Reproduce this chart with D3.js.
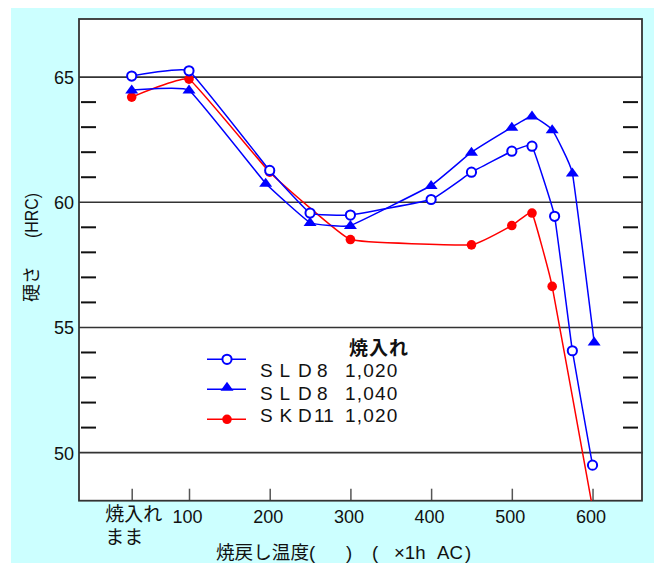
<!DOCTYPE html>
<html>
<head>
<meta charset="utf-8">
<script src="https://cdn.jsdelivr.net/npm/d3@7"></script>
<style>
body { margin: 0; background: #fff; }
svg { display: block; }
text { font-family: "Liberation Sans", "Noto Sans CJK JP", sans-serif; fill: #111; }
</style>
</head>
<body>
<div id="chart"></div>
<script>
// tick values / labels
const tempTicks = [29, 100, 200, 300, 400, 500, 600]
const tempTickLabels = ["焼入れ\nまま", "100", "200", "300", "400", "500", "600"]
const hrcTicks = [50, 55, 60, 65]
const hrcMinorTicks = [51, 52, 53, 54, 56, 57, 58, 59, 61, 62, 63, 64]

// SLD8 quenched at 1,020
const sld8_1020_temp = [29, 100, 200, 250, 300, 400, 450, 500, 525, 553, 575, 600]
const sld8_1020_hrc = [65.04, 65.25, 61.27, 59.57, 59.49, 60.11, 61.2, 62.04, 62.24, 59.44, 54.07, 49.5]
// SLD8 quenched at 1,040
const sld8_1040_temp = [29, 100, 195, 250, 300, 400, 450, 500, 525, 550, 575, 602]
const sld8_1040_hrc = [64.48, 64.48, 60.76, 59.19, 59.07, 60.67, 62.0, 63.0, 63.45, 62.9, 61.17, 54.42]
// SKD11 quenched at 1,020
const skd11_1020_temp = [29, 100, 200, 300, 450, 500, 525, 550, 600]
const skd11_1020_hrc = [64.2, 64.92, 61.2, 58.51, 58.3, 59.07, 59.57, 56.64, 47.8]

const legendNames = ["SLD8", "SLD8", "SKD11"]
const legendTemps = ["1,020", "1,040", "1,020"]

const W = 654, H = 563
const margin = { top: 19, right: 12, bottom: 62.3, left: 79 }
const width = W - margin.left - margin.right
const height = H - margin.top - margin.bottom

const blue = "#0000ff", red = "#ff0000"

const svg = d3.select("#chart").append("svg")
    .attr("width", W)
    .attr("height", H)

// cyan backdrop
svg.append("rect")
    .attr("x", 11).attr("y", 8)
    .attr("width", W - 11).attr("height", H - 8)
    .attr("fill", "#ccffff")

const g = svg.append("g")
    .attr("transform", `translate(${margin.left},${margin.top})`)

g.append("rect")
    .attr("width", width).attr("height", height)
    .attr("fill", "#fff")

const x = d3.scaleLinear().domain([-36.3, 661.3]).range([0, width])
const y = d3.scaleLinear().domain([48.08, 67.32]).range([height, 0])

// grid lines
g.append("g")
    .selectAll("line")
    .data(hrcTicks)
    .enter().append("line")
    .attr("x1", 0).attr("x2", width + 1)
    .attr("y1", d => y(d)).attr("y2", d => y(d))
    .attr("stroke", "#333")
    .attr("stroke-width", 1.6)

// minor ticks both sides
g.append("g")
    .selectAll("line")
    .data(hrcMinorTicks)
    .enter().append("line")
    .attr("x1", 2).attr("x2", 17)
    .attr("y1", d => y(d)).attr("y2", d => y(d))
    .attr("stroke", "#111")
    .attr("stroke-width", 2)
g.append("g")
    .selectAll("line")
    .data(hrcMinorTicks)
    .enter().append("line")
    .attr("x1", width - 19).attr("x2", width - 4)
    .attr("y1", d => y(d)).attr("y2", d => y(d))
    .attr("stroke", "#111")
    .attr("stroke-width", 2)

// x axis: ticks pointing inward
const xAxis = g.append("g")
    .attr("transform", `translate(0,${height})`)
    .call(d3.axisBottom(x)
        .tickValues(tempTicks)
        .tickSize(-12)
        .tickPadding(22)
        .tickFormat((d, i) => tempTickLabels[i]))
xAxis.select(".domain").remove()
xAxis.selectAll(".tick line").attr("stroke", "#555").attr("stroke-width", 1.5)
xAxis.selectAll(".tick text")
    .attr("fill", "#111")
    .style("font-size", "18px")
    .attr("dy", 0)
    .attr("y", 22)
    .each(function (d, i) {
        const lines = tempTickLabels[i].split("\n")
        const t = d3.select(this)
        if (lines.length > 1) {
            t.text(null)
                .attr("text-anchor", "start")
                .style("font-family", "'Noto Sans CJK JP', sans-serif")
                .style("font-size", "19px")
            lines.forEach((line, k) => {
                t.append("tspan").attr("x", -27).attr("y", 20 + k * 23).text(line)
            })
        } else {
            t.attr("x", -2)
        }
    })

// y axis labels
const yAxis = g.append("g")
    .call(d3.axisLeft(y).tickValues(hrcTicks).tickSize(0).tickPadding(5))
yAxis.select(".domain").remove()
yAxis.selectAll(".tick text")
    .attr("fill", "#111")
    .style("font-size", "18px")
    .attr("dy", "0.36em")

// frame
g.append("rect")
    .attr("width", width).attr("height", height)
    .attr("fill", "none")
    .attr("stroke", "#333")
    .attr("stroke-width", 1.8)

// data
const series = [
    { temp: skd11_1020_temp, hrc: skd11_1020_hrc, color: red, marker: "dot" },
    { temp: sld8_1040_temp, hrc: sld8_1040_hrc, color: blue, marker: "triangle" },
    { temp: sld8_1020_temp, hrc: sld8_1020_hrc, color: blue, marker: "circle" }
]

g.append("clipPath").attr("id", "plot-clip")
    .append("rect").attr("width", width).attr("height", height)

const line = d3.line()
    .x(d => x(d[0]))
    .y(d => y(d[1]))
    .curve(d3.curveCardinal.tension(0.72))

const triPath = "M0,-5.5L6.5,3.5L-6.5,3.5Z"

function drawMarker(sel, marker, color) {
    if (marker === "circle") {
        sel.append("circle").attr("r", 4.6)
            .attr("fill", "#fff").attr("stroke", color).attr("stroke-width", 2)
    } else if (marker === "triangle") {
        sel.append("path").attr("d", triPath).attr("fill", color)
    } else {
        sel.append("circle").attr("r", 4.8).attr("fill", color)
    }
}

const plot = g.append("g").attr("clip-path", "url(#plot-clip)")
series.forEach(s => {
    const pts = s.temp.map((t, i) => [t, s.hrc[i]])
    plot.append("path")
        .datum(pts)
        .attr("fill", "none")
        .attr("stroke", s.color)
        .attr("stroke-width", 1.5)
        .attr("d", line)
    pts.forEach(p => {
        const m = plot.append("g").attr("transform", `translate(${x(p[0])},${y(p[1])})`)
        drawMarker(m, s.marker, s.color)
    })
})

// legend
const legendSeries = [series[2], series[1], series[0]]
svg.append("text")
    .attr("x", 349).attr("y", 355)
    .style("font-family", "'Noto Sans CJK JP', sans-serif")
    .style("font-size", "19px")
    .style("font-weight", "bold")
    .style("letter-spacing", "1px")
    .text("焼入れ")

legendSeries.forEach((s, i) => {
    const ly = 359.3 + i * 30
    svg.append("line")
        .attr("x1", 207).attr("x2", 246)
        .attr("y1", ly).attr("y2", ly)
        .attr("stroke", s.color).attr("stroke-width", 1.5)
    const m = svg.append("g").attr("transform", `translate(227,${ly - (s.marker === "triangle" ? 2 : 0)})`)
    drawMarker(m, s.marker, s.color)

    const ty = 377 + i * 22.5
    svg.append("text")
        .attr("x", "260 279.5 298 " + (legendNames[i].length > 4 ? 314 : 317))
        .attr("y", ty)
        .style("font-size", "19px")
        .text(legendNames[i])
    svg.append("text")
        .attr("x", 345).attr("y", ty)
        .style("font-size", "19px")
        .style("letter-spacing", "1.2px")
        .text(legendTemps[i])
})

// y axis title
const yTitle = svg.append("text")
    .attr("transform", "translate(38,0) rotate(-90)")
    .style("font-size", "18px")
yTitle.append("tspan").attr("x", -302).attr("y", 0)
    .style("font-family", "'Noto Sans CJK JP', sans-serif")
    .text("硬さ")
yTitle.append("tspan").attr("x", -238).attr("y", 0)
    .attr("textLength", 45).attr("lengthAdjust", "spacingAndGlyphs")
    .text("(HRC)")

// x axis title
const xTitle = svg.append("text")
    .attr("y", 559)
    .style("font-size", "18.6px")
xTitle.append("tspan").attr("x", 216)
    .style("font-family", "'Noto Sans CJK JP', sans-serif")
    .text("焼戻し温度")
xTitle.append("tspan").attr("x", 309).text("(")
xTitle.append("tspan").attr("x", 346).text(")")
xTitle.append("tspan").attr("x", 372).text("(")
xTitle.append("tspan").attr("x", 394).text("×1h")
xTitle.append("tspan").attr("x", 437).text("AC")
xTitle.append("tspan").attr("x", 465).text(")")
</script>
</body>
</html>
